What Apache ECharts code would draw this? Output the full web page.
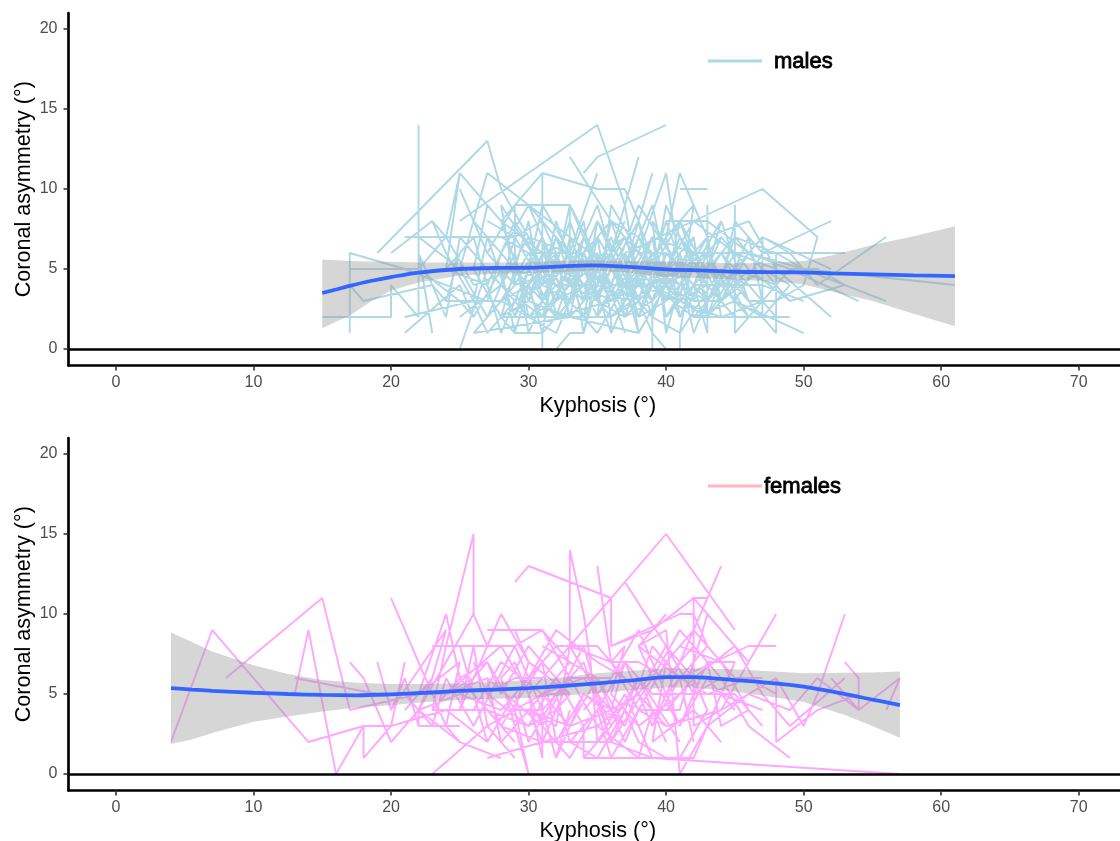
<!DOCTYPE html>
<html>
<head>
<meta charset="utf-8">
<style>html,body{margin:0;padding:0;background:#fff}#c{width:1120px;height:841px}</style>
<script src="https://cdn.jsdelivr.net/npm/echarts@6/dist/echarts.min.js"></script>
</head>
<body>
<div id="c"></div>
<script>
const xTicks = [0,10,20,30,40,50,60,70];
const yTicks = [0,5,10,15,20];
const xTitle = 'Kyphosis (°)';
const yTitle = 'Coronal asymmetry (°)';

const malesPaths = [
 [[15,2],[20,2],[20,4],[22,2],[22,14],[22,5],[24,7],[26,4]],
 [[17,1],[17,6],[21,5],[24,4],[27,3],[28,6]],
 [[17,5],[22,5],[25,3],[26,2]],
 [[17,4],[18,3],[23,4],[24,3],[25,6]],
 [[19,6],[27,13],[28,10],[30,7],[33,6],[35,4],[37,8]],
 [[20,6],[23,8],[24,6],[26,3],[27,7],[29,2],[31,6]],
 [[21,7],[29,7],[31,4],[32,8],[34,3],[36,7],[38,2],[40,6]],
 [[23,8],[24,7],[25,11],[28,8],[31,6],[33,5],[35,9],[37,3],[39,6]],
 [[22,7],[25,5],[27,11],[33,7],[36,5],[38,8],[40,3],[42,7]],
 [[25,10],[27,6],[29,9],[33,9],[35,5],[37,7],[39,2],[41,7],[43,4]],
 [[25,8],[35,14],[37,9],[38,12]],
 [[34,11],[35,12],[40,14]],
 [[33,12],[36,8],[38,7],[39,5],[41,8],[43,3],[45,6]],
 [[31,11],[35,10],[36,10],[37,10],[38,8],[39,4],[41,6]],
 [[31,11],[31,5],[28,9],[29,4],[27,2],[26,1]],
 [[31,11],[28,8],[30,3],[32,7],[34,2],[35,6],[37,1]],
 [[27,11],[25,5],[27,2],[29,6],[30,1],[32,5]],
 [[25,11],[24,5],[26,7],[27,4],[28,1],[30,5]],
 [[27,9],[26,5],[28,2],[30,8],[31,3],[33,8],[35,3]],
 [[29,9],[29,4],[31,7],[33,2],[34,6],[36,1],[38,5]],
 [[35,11],[33,6],[31,9],[30,5],[32,2],[34,7],[36,3],[38,6]],
 [[33,9],[33,4],[36,6],[37,2],[39,7],[40,2],[42,5]],
 [[39,11],[38,8],[37,5],[39,3],[41,5],[42,1],[44,5]],
 [[40,11],[38,6],[36,9],[35,2],[37,6],[38,1],[40,4]],
 [[40,11],[41,5],[39,8],[40,1],[41,4],[43,7],[44,2]],
 [[41,11],[40,7],[42,9],[41,3],[43,5],[44,8],[46,3]],
 [[41,11],[43,7],[44,3],[46,7],[47,3],[49,5]],
 [[41,10],[43,10]],
 [[37,6],[47,10],[51,7],[50,4],[48,3]],
 [[52,8],[47,6],[45,8],[44,4],[46,2],[48,4]],
 [[53,6],[47,6],[45,3],[43,6],[41,2]],
 [[53,6],[50,6]],
 [[56,7],[51,4],[49,6],[47,7],[47,2],[49,4]],
 [[56,3],[50,5],[48,6],[48,1],[46,3]],
 [[54,3],[49,5],[47,3],[45,5],[43,2]],
 [[53,4],[49,3],[46,5],[44,7],[42,3]],
 [[52,2],[48,5],[45,6],[42,8],[40,5]],
 [[50,1],[45,3],[42,2],[39,4],[36,4]],
 [[61,4],[50,5],[46,6],[43,8],[40,8]],
 [[43,9],[43,1],[42,4],[40,2]],
 [[45,9],[45,1],[47,3],[44,2],[41,3]],
 [[39,0],[39,3],[37,2],[35,3],[33,4],[31,2]],
 [[40,0],[39,1],[38,3],[36,2],[33,2],[30,3],[28,2]],
 [[41,0],[41,1],[42,6],[39,7],[37,4],[35,7],[33,3]],
 [[31,0],[31,1],[33,3],[32,1],[30,2],[28,3]],
 [[32,0],[33,1],[34,1],[35,4],[37,3],[36,1],[36,2],[28,2]],
 [[25,0],[27,5],[30,2],[32,4],[34,5],[36,4],[38,4]],
 [[21,1],[25,4],[26,2],[28,5],[29,1],[30,4],[31,1],[32,6]],
 [[21,2],[26,3],[27,1],[29,3],[31,4],[33,6],[34,1],[35,5]],
 [[23,1],[22,6],[24,2],[25,7],[27,5],[29,5],[31,3]],
 [[26,1],[33,2],[38,1],[37,4],[39,5],[41,4],[43,3]],
 [[28,2],[29,1],[30,1],[31,1],[34,4],[36,6],[38,3],[39,1]],
 [[28,7],[30,6],[32,3],[34,8],[35,3],[37,9],[38,4],[40,7],[41,2],[42,4]],
 [[27,8],[29,7],[31,8],[33,4],[35,8],[37,5],[39,9],[40,5],[42,6],[44,6],[46,4]],
 [[30,9],[32,5],[33,9],[36,4],[38,9],[41,5],[43,7],[46,8],[48,5]],
 [[26,6],[28,4],[30,7],[32,3],[34,4],[36,3],[38,5],[40,4],[42,3],[44,3],[47,5],[49,4]],
 [[24,5],[27,4],[29,8],[31,5],[33,3],[35,1],[37,4],[39,2],[41,1],[44,5],[46,2],[49,2]],
 [[28,3],[30,6],[34,6],[36,8],[38,6],[40,6],[42,4],[45,4],[47,4],[50,3]],
 [[26,8],[28,6],[30,9],[34,5],[37,7],[39,3],[41,7],[44,4],[47,7],[52,5]],
 [[25,2],[28,4],[31,2],[33,5],[36,2],[39,4],[42,2],[45,2],[48,2],[46,4]],
 [[44,8],[42,5],[40,9],[39,4],[43,6],[46,6],[49,5],[51,5],[53,4]],
 [[29,5],[31,2],[32,5],[34,3],[35,7],[36,2],[38,4],[39,6],[41,3],[43,4],[45,2]],
 [[28,4],[29,7],[31,4],[33,3],[34,5],[37,3],[38,5],[40,3],[41,6],[42,2],[44,4]],
 [[30,2],[32,3],[33,7],[35,3],[36,5],[38,2],[39,5],[40,8],[42,3],[43,5],[46,4]],
 [[27,5],[29,3],[31,7],[32,2],[34,4],[36,6],[37,3],[39,7],[40,4],[41,8],[44,3],[46,5]],
 [[28,6],[30,4],[32,6],[33,2],[35,4],[36,8],[38,3],[40,5],[42,7],[43,2],[45,7],[47,5]],
 [[29,2],[30,5],[31,3],[33,6],[34,3],[35,8],[37,4],[38,7],[41,4],[42,6],[45,3],[47,2]],
 [[26,4],[29,5],[32,4],[34,2],[36,5],[38,3],[39,6],[41,2],[44,6],[46,3],[48,3]],
 [[30,3],[31,6],[33,3],[34,7],[36,4],[37,6],[39,3],[40,6],[43,3],[45,5],[48,4]],
 [[31,4],[32,7],[34,4],[35,2],[37,5],[38,2],[40,3],[42,5],[44,3],[46,6],[49,3]],
 [[24,3],[28,3],[30,4],[32,2],[36,3],[38,4],[41,3],[44,2],[48,2]],
 [[27,6],[29,4],[33,5],[35,6],[37,2],[39,4],[43,2],[45,4],[47,2]],
 [[29,6],[30,2],[32,4],[35,4],[37,7],[40,4],[42,5],[44,7],[46,5]],
 [[33,3],[34,6],[36,3],[38,6],[41,3],[43,5],[45,7],[48,6]]
];

const femalesPaths = [
 [[4,2],[7,9],[14,2],[18,3],[20,3],[24,4],[27,2]],
 [[8,6],[15,11],[17,4],[22,5],[25,7],[24,3]],
 [[13,5],[14,9],[16,0],[18,3],[18,1],[20,3],[21,7]],
 [[13,6],[19,5],[21,5],[23,3],[24,6]],
 [[17,7],[18,6],[19,4],[20,2],[22,4],[23,6]],
 [[19,7],[20,4],[21,6],[22,3]],
 [[20,11],[22,7],[23,5],[24,3],[25,2],[28,1]],
 [[26,15],[24,8],[23,4],[25,6],[27,4],[29,2]],
 [[26,15],[26,10],[24,7],[22,4],[22,3],[25,3]],
 [[26,10],[27,8],[25,4],[26,8],[27,3],[29,1]],
 [[24,10],[22,5],[21,4],[23,6],[24,9],[20,4]],
 [[24,10],[25,6],[27,7],[29,4],[30,0]],
 [[28,10],[26,6],[24,5],[28,8],[30,5],[31,1]],
 [[28,10],[30,7],[29,4],[31,4],[32,1],[33,4]],
 [[23,8],[29,8],[31,9],[33,6],[36,6]],
 [[23,4],[27,4],[30,3],[32,6],[34,3],[34,1],[36,3]],
 [[27,9],[31,9],[33,7],[30,4],[32,3],[33,8],[35,5]],
 [[29,12],[30,13],[36,11],[36,8],[41,10],[42,10],[43,8],[40,5]],
 [[36,8],[39,9],[42,11],[43,11],[41,7],[39,3]],
 [[33,14],[33,8],[35,5],[36,3],[38,6],[40,2]],
 [[33,14],[34,10],[34.5,7],[35,2],[37,5],[39,1]],
 [[35,13],[36,7],[37,8],[36,5],[38,3],[41,5]],
 [[30,5],[36,11],[40,15],[45,9]],
 [[37,12],[40,8],[42,6],[43,4],[41,1],[38,1]],
 [[44,13],[42,9],[40,7],[39,2],[42,4],[44,2]],
 [[48,10],[44,4],[42,3],[42,11],[44,9],[46,7]],
 [[48,8],[46,8],[41,6],[38,8],[40,9],[41,0]],
 [[43,10],[41,4],[38,4],[40,7],[42,9],[45,6],[47,6]],
 [[53,10],[51,5],[50,3],[48,6],[48,2],[51,4],[54,5]],
 [[53,7],[54,6],[54,4],[52,6]],
 [[53,6],[49,3],[47,5],[45,8],[42,6],[40,4]],
 [[49,1],[46,3],[44,6],[42,8],[40,6],[38,7]],
 [[48,6],[44,4],[40,3],[38,5],[36,4],[33,3],[30,4]],
 [[56,4],[57,6],[54,4],[51,6],[49,4],[46,5],[43,3]],
 [[39,1],[57,0]],
 [[34,1],[39,1],[36,2],[33,2],[31,2],[28,3]],
 [[32,1],[34,5],[37,3],[34,6],[31,5],[28,7],[26,4]],
 [[31,1],[31,5],[33,5],[30,8],[28,5],[27,7],[25,5]],
 [[27,1],[35,3],[38,1],[39,4],[37,6],[35,7],[32,9],[30,6]],
 [[23,0],[27,3],[31,5],[33,3],[35,6],[37,2],[38,4],[36,7]],
 [[30,0],[28,6],[29,7],[31,3],[34,8],[36,2],[38,6],[41,2]],
 [[41,0],[43,3],[45,7],[43,7],[41,3],[40,5],[38,9],[36,6],[34,4]],
 [[23,4],[27,4]],
 [[28,1],[25,2],[22,4],[25,5],[28,4],[30,6],[32,8],[35,8],[38,5]],
 [[29,9],[30,7],[33,5],[32,4],[30,3],[27,5],[29,6],[31,6],[33,8],[36,7],[38,7]],
 [[40,10],[38,8],[39,6],[41,9],[43,7],[44,3],[46,4],[44,7],[41,8]],
 [[20,5],[24,5],[27,6],[31,3],[33,1],[35,4],[37,7],[39,5],[42,5],[45,5],[47,3]],
 [[31,8],[35,6],[37,3],[39,8],[41,6],[43,5],[46,6],[48,5]],
 [[33,2],[35,1],[37,4],[38,2],[40,1],[42,1],[44,5],[47,4]],
 [[25,8],[27,2],[29,5],[30,2],[32,5],[33,2],[35,4],[36,1],[38,4],[40,3]],
 [[26,7],[28,3],[31,7],[32,2],[34,5],[36,4],[37,7],[39,3],[41,6],[42,2]],
 [[27,6],[28,2],[30,4],[31,2],[33,6],[35,3],[38,5],[40,8],[42,5],[44,6]],
 [[24,6],[26,3],[29,8],[31,4],[34,7],[36,2],[39,6],[41,3],[43,6],[45,4]]
];

const malesBandX = [15,16,17,18.5,20,22,25,28,30,32,34.5,37,40,43,45,48,50,52,55,58,61];
const malesFit = [3.5,3.72,3.95,4.25,4.5,4.78,5.0,5.07,5.08,5.15,5.23,5.15,4.98,4.9,4.83,4.8,4.79,4.73,4.67,4.6,4.56];
const malesUpper = [5.6,5.55,5.5,5.47,5.45,5.4,5.4,5.4,5.4,5.5,5.55,5.5,5.45,5.4,5.35,5.4,5.5,5.85,6.5,7.05,7.68];
const malesLower = [1.3,1.7,2.1,2.95,3.65,4.15,4.6,4.72,4.75,4.8,4.9,4.8,4.5,4.4,4.35,4.2,4.05,3.6,3.0,2.2,1.43];

const femalesBandX = [4,5.5,7,10,12.5,15,17.5,20,22.5,25,27.5,30,32.5,35,37.5,40,42,45,47.5,50,53,55,57];
const femalesFit = [5.37,5.28,5.2,5.08,5.0,4.94,4.92,4.98,5.08,5.19,5.28,5.37,5.5,5.67,5.85,6.06,6.05,5.87,5.7,5.46,5.0,4.65,4.31];
const femalesUpper = [8.85,8.27,7.65,6.8,6.25,5.87,5.7,5.62,5.62,5.67,5.75,5.87,6.05,6.3,6.45,6.6,6.6,6.55,6.42,6.3,6.33,6.35,6.4];
const femalesLower = [1.87,2.15,2.56,3.27,3.6,3.9,4.15,4.3,4.5,4.63,4.7,4.75,4.9,5.05,5.25,5.4,5.4,5.14,4.85,4.5,3.69,3.0,2.27];

const FONT = '"Liberation Sans", Arial, Helvetica, sans-serif';
const X_MIN = -3.45, X_MAX = 73, Y_MIN = -1.03, Y_MAX = 21;

function flatten(paths) {
  const out = [];
  paths.forEach((p, i) => { if (i) out.push(null); p.forEach(d => out.push(d)); });
  return out;
}
function axisCommon(ticks, name, gap, min, max, margin, namePadding) {
  return {
    type: 'value', min, max, name, nameLocation: 'middle', nameGap: gap, nameMoveOverlap: false,
    nameTextStyle: { color: '#000', fontSize: 21.6, fontFamily: FONT, padding: namePadding },
    splitLine: { show: false },
    axisLine: { show: true, onZero: false, lineStyle: { color: '#000', width: 2.7 } },
    axisTick: { show: true, length: 5, customValues: ticks, lineStyle: { color: '#333', width: 1.6 } },
    axisLabel: { color: '#4D4D4D', fontSize: 16, fontFamily: FONT, margin, customValues: ticks }
  };
}
function panelSeries(idx, name, paths, color, bx, fit, up, lo) {
  const ax = { xAxisIndex: idx, yAxisIndex: idx };
  return [
    { ...ax, type: 'line', name, data: flatten(paths), showSymbol: false, symbol: 'none', connectNulls: false,
      lineStyle: { color, width: 1.9 }, silent: true, animation: false, z: 2,
      markLine: { silent: true, symbol: 'none', animation: false, label: { show: false },
        lineStyle: { color: '#000', width: 2.7, type: 'solid' }, data: [{ yAxis: 0 }] } },
    { ...ax, type: 'custom', data: bx.map((x, i) => [x, lo[i], up[i]]), encode: { x: 0, y: [1, 2] }, silent: true, animation: false, z: 3,
      renderItem: (params, api) => {
        if (params.dataIndex !== 0) return null;
        const top = bx.map((x, i) => api.coord([x, up[i]]));
        const bottom = bx.map((x, i) => api.coord([x, lo[i]])).reverse();
        return { type: 'polygon', shape: { points: top.concat(bottom) }, style: { fill: 'rgba(153,153,153,0.4)' } };
      } },
    { ...ax, type: 'line', data: bx.map((x, i) => [x, fit[i]]), smooth: 0.3, symbol: 'none',
      lineStyle: { color: '#3366FF', width: 3.8 }, silent: true, animation: false, z: 4 }
  ];
}
function legendMark(top, color, textX, label) {
  return [
    { type: 'line', shape: { x1: 708, y1: top, x2: 762, y2: top }, style: { stroke: color, lineWidth: 2.8 }, z: 10 },
    { type: 'text', x: textX, y: top + 1, style: { text: label, fill: '#000', stroke: '#000', lineWidth: 0.8,
      font: '22px ' + FONT, textAlign: 'left', textVerticalAlign: 'middle' }, z: 10 }
  ];
}
const chart = echarts.init(document.getElementById('c'), null, { renderer: 'canvas' });
chart.setOption({
  animation: false,
  backgroundColor: '#fff',
  grid: [
    { left: 68.5, top: 13, width: 1051.5, height: 352.5, outerBoundsMode: 'none' },
    { left: 68.5, top: 438, width: 1051.5, height: 352.5, outerBoundsMode: 'none' }
  ],
  xAxis: [
    { gridIndex: 0, ...axisCommon(xTicks, xTitle, 29.5, X_MIN, X_MAX, 9, [0, 0, 0, 7]) },
    { gridIndex: 1, ...axisCommon(xTicks, xTitle, 29.5, X_MIN, X_MAX, 9, [0, 0, 0, 7]) }
  ],
  yAxis: [
    { gridIndex: 0, ...axisCommon(yTicks, yTitle, 31, Y_MIN, Y_MAX, 11, [0, 0, 2, 0]) },
    { gridIndex: 1, ...axisCommon(yTicks, yTitle, 31, Y_MIN, Y_MAX, 11, [0, 0, 2, 0]) }
  ],
  series: [
    ...panelSeries(0, 'males', malesPaths, '#ADD8E6', malesBandX, malesFit, malesUpper, malesLower),
    ...panelSeries(1, 'females', femalesPaths, '#FFA6FF', femalesBandX, femalesFit, femalesUpper, femalesLower)
  ],
  graphic: [ ...legendMark(61, '#ADD8E6', 774, 'males'), ...legendMark(486, '#FFB6C1', 764, 'females') ]
});
</script>
</body>
</html>
